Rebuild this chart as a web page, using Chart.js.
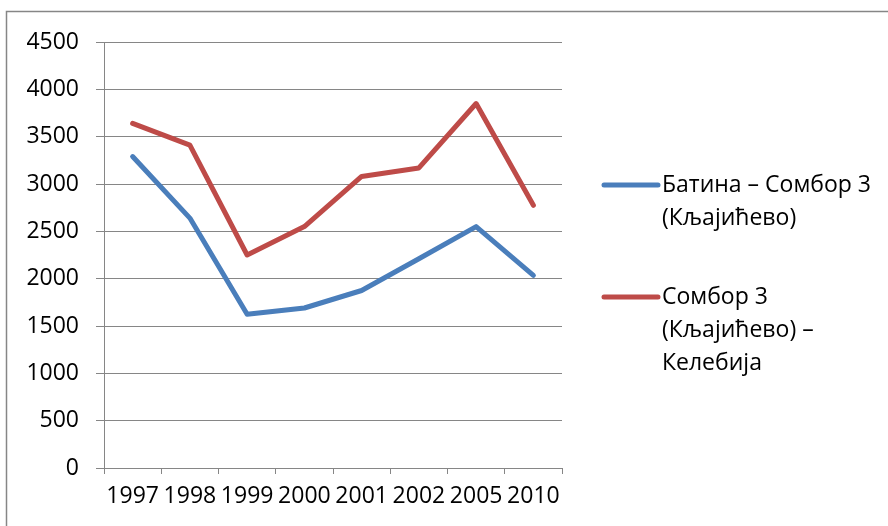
<!DOCTYPE html>
<html>
<head>
<meta charset="utf-8">
<script src="https://cdn.jsdelivr.net/npm/chart.js@4/dist/chart.umd.min.js"></script>
<style>
html,body{margin:0;padding:0;background:#fff;}
#wrap{width:888px;height:526px;position:relative;}
</style>
</head>
<body>
<div id="wrap"><canvas id="c" width="888" height="526"></canvas></div>
<script>
const years = ["1997","1998","1999","2000","2001","2002","2005","2010"];
const batinaSombor = [3290, 2640, 1625, 1690, 1875, 2210, 2550, 2035];
const somborKelebija = [3640, 3410, 2250, 2550, 3080, 3170, 3850, 2775];
const seriesNames = [
  ["Батина – Сомбор 3", "(Кљајићево)"],
  ["Сомбор 3", "(Кљајићево) –", "Келебија"]
];
const yMin = 0, yMax = 4500, yStep = 500;

const FONT = "'Open Sans', 'Noto Sans', sans-serif";
const FS = 23;
const GRID = '#868686';
const colors = ['#4A7EBB', '#BE4B48'];

const frame = {
  id: 'frame',
  beforeDraw(chart) {
    const ctx = chart.ctx;
    ctx.save();
    ctx.strokeStyle = GRID;
    ctx.lineWidth = 1.5;
    ctx.strokeRect(6.5, 11.5, 2000, 2000);
    ctx.restore();
  }
};

const sideLegend = {
  id: 'sideLegend',
  afterDraw(chart) {
    const ctx = chart.ctx;
    const a = chart.chartArea;
    const x0 = a.right + 42, x1 = a.right + 96, tx = a.right + 100;
    const starts = [a.top + 143, a.top + 255];
    const lh = 33;
    ctx.save();
    ctx.font = FS + 'px ' + FONT;
    ctx.textBaseline = 'middle';
    ctx.textAlign = 'left';
    chart.data.datasets.forEach((ds, i) => {
      const y = starts[i];
      ctx.strokeStyle = ds.borderColor;
      ctx.lineWidth = 5;
      ctx.lineCap = 'round';
      ctx.beginPath();
      ctx.moveTo(x0, y);
      ctx.lineTo(x1, y);
      ctx.stroke();
      ctx.fillStyle = '#000';
      seriesNames[i].forEach((line, j) => ctx.fillText(line, tx, y + j * lh));
    });
    ctx.restore();
  }
};

new Chart(document.getElementById('c'), {
  type: 'line',
  data: {
    labels: years,
    datasets: [
      { label: seriesNames[0].join(' '), data: batinaSombor, borderColor: colors[0], backgroundColor: colors[0] },
      { label: seriesNames[1].join(' '), data: somborKelebija, borderColor: colors[1], backgroundColor: colors[1] }
    ]
  },
  options: {
    responsive: false,
    animation: false,
    devicePixelRatio: 1,
    layout: { padding: { left: 0, top: 42, right: 326, bottom: 0 } },
    elements: {
      line: { borderWidth: 5, tension: 0, borderCapStyle: 'round', borderJoinStyle: 'round' },
      point: { radius: 0, hoverRadius: 0 }
    },
    plugins: { legend: { display: false }, tooltip: { enabled: false } },
    scales: {
      x: {
        offset: true,
        grid: { display: true, offset: true, drawOnChartArea: false, drawTicks: true, tickLength: 6, color: GRID, lineWidth: 1 },
        border: { display: true, color: GRID, width: 1 },
        ticks: { color: '#000', font: { family: FONT, size: FS }, padding: 9, maxRotation: 0, autoSkip: false },
        afterFit(s) { s.height = 58; }
      },
      y: {
        min: yMin, max: yMax,
        grid: { color: GRID, lineWidth: 1, drawTicks: true, tickLength: 8 },
        border: { display: true, color: GRID, width: 1 },
        ticks: { stepSize: yStep, color: '#000', font: { family: FONT, size: FS }, padding: 17, callback: v => String(v) },
        afterFit(s) { s.width = 104; }
      }
    }
  },
  plugins: [frame, sideLegend]
});
</script>
</body>
</html>
